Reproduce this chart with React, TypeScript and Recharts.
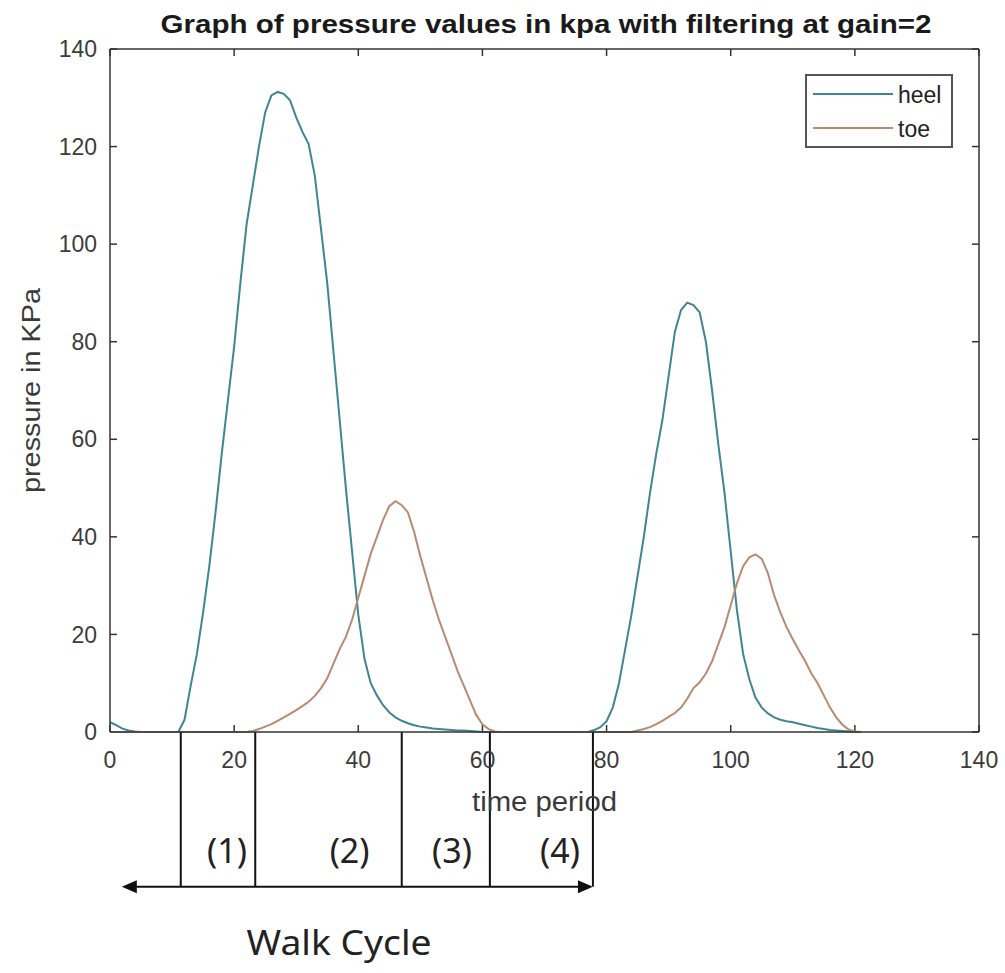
import {
  LineChart,
  Line,
  XAxis,
  YAxis,
  Legend,
  Label,
  ReferenceLine,
  ReferenceDot,
} from "recharts";

// sample index -> pressure (kPa), one value per time step 0..121
const HEEL = [
  2.0, 1.4, 0.7, 0.3, 0.1, 0, 0, 0, 0, 0,
  0, 0, 2.5, 9.5, 16, 24.5, 34, 45, 57, 68,
  79, 92, 104, 112, 120, 127, 130.5, 131.2, 130.8, 129.5,
  126, 123, 120.5, 114, 103, 92, 78, 64, 50, 37,
  24, 15, 10, 7.5, 5.5, 4, 3, 2.3, 1.8, 1.4,
  1.1, 0.9, 0.7, 0.6, 0.5, 0.4, 0.3, 0.3, 0.2, 0.1,
  0, 0, 0, 0, 0, 0, 0, 0, 0, 0,
  0, 0, 0, 0, 0, 0, 0, 0, 0.4, 1,
  2.2, 5, 10, 17, 24, 32, 40, 49, 57, 64,
  73, 82, 86.5, 88, 87.5, 86, 80, 70, 59, 49,
  37, 25, 16, 10.8, 7, 5, 3.8, 3, 2.5, 2.2,
  2, 1.7, 1.4, 1.1, 0.8, 0.6, 0.4, 0.3, 0.2, 0.1,
  0, 0,
];

const TOE = [
  0, 0, 0, 0, 0, 0, 0, 0, 0, 0,
  0, 0, 0, 0, 0, 0, 0, 0, 0, 0,
  0, 0, 0, 0.2, 0.6, 1.1, 1.6, 2.3, 3, 3.7,
  4.5, 5.3, 6.2, 7.4, 9, 11, 14, 17, 19.5, 23,
  27.5, 32, 36.5, 40, 43.5, 46.3, 47.3, 46.5, 45, 41,
  36, 31.5, 27, 23, 19.5, 16, 12.5, 9.5, 6.5, 3.5,
  1.6, 0.6, 0.1, 0, 0, 0, 0, 0, 0, 0,
  0, 0, 0, 0, 0, 0, 0, 0, 0, 0,
  0, 0, 0, 0, 0, 0.3, 0.6, 1, 1.6, 2.3,
  3.1, 3.9, 5, 6.8, 9, 10.2, 12, 14.5, 18, 21.5,
  26, 30.5, 34, 35.8, 36.4, 35.5, 32.5, 28, 24.5, 21.5,
  19, 16.7, 14.5, 12, 10, 7.5, 5, 3, 1.5, 0.5,
  0.1, 0,
];

const X_TICKS = [0, 20, 40, 60, 80, 100, 120, 140];
const Y_TICKS = [0, 20, 40, 60, 80, 100, 120, 140];
const X_MAX = 140;
const Y_MAX = 140;
// inward tick length, in axis units (~7px)
const X_TICK_LEN = 1.43;
const Y_TICK_LEN = 1.13;

// walk cycle annotation (time units)
const CYCLE_MARKS = [11.4, 23.4, 47.0, 61.2, 77.8];
const PHASE_LABELS = ["(1)", "(2)", "(3)", "(4)"];
const PHASE_CENTERS = [18.85, 38.6, 55.1, 72.5];
const ARROW_START = 1.9;
const ARROW_LEVEL = -31.7;
const PHASE_LEVEL = -24.1;

const SERIES = [
  { key: "heel", label: "heel", color: "#3f8593" },
  { key: "toe", label: "toe", color: "#b98a72" },
];

const DATA = HEEL.map((h, i) => ({ t: i, heel: h, toe: TOE[i] }));

const AXIS_FONT = "'Liberation Sans', Arial, Helvetica, sans-serif";
const NOTE_FONT = "'Noto Sans', 'Open Sans', sans-serif";
const AXIS_COLOR = "#333";
const tickStyle = { fill: "#3c3c3c", fontSize: 23, fontFamily: AXIS_FONT };

function LegendBox() {
  return (
    <svg width={148} height={74} style={{ display: "block" }}>
      <rect x={1} y={1} width={146} height={72} fill="#fff" stroke="#555" strokeWidth={2} />
      {SERIES.map((s, i) => (
        <g key={s.key}>
          <line x1={8} x2={88} y1={20 + i * 34} y2={20 + i * 34} stroke={s.color} strokeWidth={2} />
          <text x={93} y={29 + i * 34} fontSize={23} fontFamily={AXIS_FONT} fill="#222">
            {s.label}
          </text>
        </g>
      ))}
    </svg>
  );
}

// eslint-disable-next-line @typescript-eslint/no-explicit-any
function CycleArrow(p: any) {
  const { x1, x2, y1 } = p;
  const head = 15;
  const half = 6.5;
  return (
    <g>
      <line x1={x1 + head - 2} x2={x2 - head + 2} y1={y1} y2={y1} stroke="#111" strokeWidth={2} />
      <polygon points={`${x1},${y1} ${x1 + head},${y1 - half} ${x1 + head},${y1 + half}`} fill="#111" />
      <polygon points={`${x2},${y1} ${x2 - head},${y1 - half} ${x2 - head},${y1 + half}`} fill="#111" />
    </g>
  );
}

export default function App() {
  return (
    <div style={{ position: "absolute", left: 0, top: 0, width: 1005, height: 973, background: "#fff" }}>
      <LineChart
        width={1005}
        height={973}
        data={DATA}
        margin={{ top: 49, right: 26, bottom: 181, left: 0 }}
      >
        <XAxis
          dataKey="t"
          type="number"
          domain={[0, X_MAX]}
          ticks={X_TICKS}
          height={60}
          tick={tickStyle}
          tickLine={false}
          tickSize={-7}
          tickMargin={27}
          stroke={AXIS_COLOR}
          strokeWidth={1.5}
        >
          <Label
            content={(props: any) => {
              const vb = props.viewBox ?? { x: 110, y: 732, width: 869, height: 60 };
              return (
                <text
                  x={vb.x + vb.width / 2}
                  y={vb.y + 79}
                  textAnchor="middle"
                  fontSize={27}
                  fontFamily={AXIS_FONT}
                  fill="#3a3a3a"
                  textLength={145}
                  lengthAdjust="spacingAndGlyphs"
                >
                  time period
                </text>
              );
            }}
          />
        </XAxis>
        <YAxis
          type="number"
          domain={[0, Y_MAX]}
          ticks={Y_TICKS}
          width={110}
          tick={tickStyle}
          tickLine={false}
          tickSize={-7}
          tickMargin={20}
          stroke={AXIS_COLOR}
          strokeWidth={1.5}
        >
          <Label
            content={(props: any) => {
              const vb = props.viewBox ?? { x: 0, y: 49, width: 110, height: 683 };
              const cx = 31;
              const cy = vb.y + vb.height / 2;
              return (
                <text
                  x={cx}
                  y={cy}
                  transform={`rotate(-90 ${cx} ${cy})`}
                  textAnchor="middle"
                  dominantBaseline="central"
                  fontSize={25}
                  fontFamily={AXIS_FONT}
                  fill="#3a3a3a"
                  textLength={205}
                  lengthAdjust="spacingAndGlyphs"
                >
                  pressure in KPa
                </text>
              );
            }}
          />
        </YAxis>
        <Legend
          layout="vertical"
          align="center"
          verticalAlign="middle"
          content={() => <LegendBox />}
          wrapperStyle={{ left: 805, top: 74, width: 148, height: 74 }}
        />

        {/* box frame + inward ticks, MATLAB style */}
        <ReferenceLine y={Y_MAX} stroke={AXIS_COLOR} strokeWidth={1.5} />
        <ReferenceLine x={X_MAX} stroke={AXIS_COLOR} strokeWidth={1.5} />
        {X_TICKS.map((v) => (
          <ReferenceLine
            key={`xb-${v}`}
            segment={[{ x: v, y: 0 }, { x: v, y: X_TICK_LEN }]}
            stroke={AXIS_COLOR}
            strokeWidth={1.5}
          />
        ))}
        {X_TICKS.map((v) => (
          <ReferenceLine
            key={`xt-${v}`}
            segment={[{ x: v, y: Y_MAX }, { x: v, y: Y_MAX - X_TICK_LEN }]}
            stroke={AXIS_COLOR}
            strokeWidth={1.5}
          />
        ))}
        {Y_TICKS.map((v) => (
          <ReferenceLine
            key={`yl-${v}`}
            segment={[{ x: 0, y: v }, { x: Y_TICK_LEN, y: v }]}
            stroke={AXIS_COLOR}
            strokeWidth={1.5}
          />
        ))}
        {Y_TICKS.map((v) => (
          <ReferenceLine
            key={`yr-${v}`}
            segment={[{ x: X_MAX, y: v }, { x: X_MAX - Y_TICK_LEN, y: v }]}
            stroke={AXIS_COLOR}
            strokeWidth={1.5}
          />
        ))}

        {SERIES.map((s) => (
          <Line
            key={s.key}
            type="linear"
            dataKey={s.key}
            name={s.label}
            stroke={s.color}
            strokeWidth={2}
            dot={false}
            activeDot={false}
            isAnimationActive={false}
          />
        ))}

        {/* title */}
        <ReferenceDot
          x={X_MAX / 2}
          y={Y_MAX}
          ifOverflow="visible"
          shape={(p: any) => (
            <text
              x={p.cx + 1.5}
              y={p.cy - 16}
              textAnchor="middle"
              fontSize={25}
              fontWeight="bold"
              fontFamily={AXIS_FONT}
              fill="#1a1a1a"
              textLength={771}
              lengthAdjust="spacingAndGlyphs"
            >
              Graph of pressure values in kpa with filtering at gain=2
            </text>
          )}
        />

        {/* walk cycle annotation */}
        {CYCLE_MARKS.map((m) => (
          <ReferenceLine
            key={`mark-${m}`}
            segment={[{ x: m, y: 0 }, { x: m, y: ARROW_LEVEL }]}
            stroke="#111"
            strokeWidth={2}
            ifOverflow="visible"
          />
        ))}
        <ReferenceLine
          segment={[{ x: ARROW_START, y: ARROW_LEVEL }, { x: CYCLE_MARKS[CYCLE_MARKS.length - 1], y: ARROW_LEVEL }]}
          ifOverflow="visible"
          shape={(p: any) => <CycleArrow {...p} />}
        />
        {PHASE_LABELS.map((label, i) => (
          <ReferenceDot
            key={label}
            x={PHASE_CENTERS[i]}
            y={PHASE_LEVEL}
            ifOverflow="visible"
            shape={(p: any) => (
              <text
                x={p.cx}
                y={p.cy}
                textAnchor="middle"
                dominantBaseline="central"
                fontSize={34}
                fontFamily={NOTE_FONT}
                fill="#222"
              >
                {label}
              </text>
            )}
          />
        ))}
        <ReferenceDot
          x={36.9}
          y={-43.1}
          ifOverflow="visible"
          shape={(p: any) => (
            <text
              x={p.cx}
              y={p.cy}
              textAnchor="middle"
              dominantBaseline="central"
              fontSize={34}
              fontFamily={NOTE_FONT}
              fill="#222"
              textLength={185}
              lengthAdjust="spacingAndGlyphs"
            >
              Walk Cycle
            </text>
          )}
        />
      </LineChart>
    </div>
  );
}
